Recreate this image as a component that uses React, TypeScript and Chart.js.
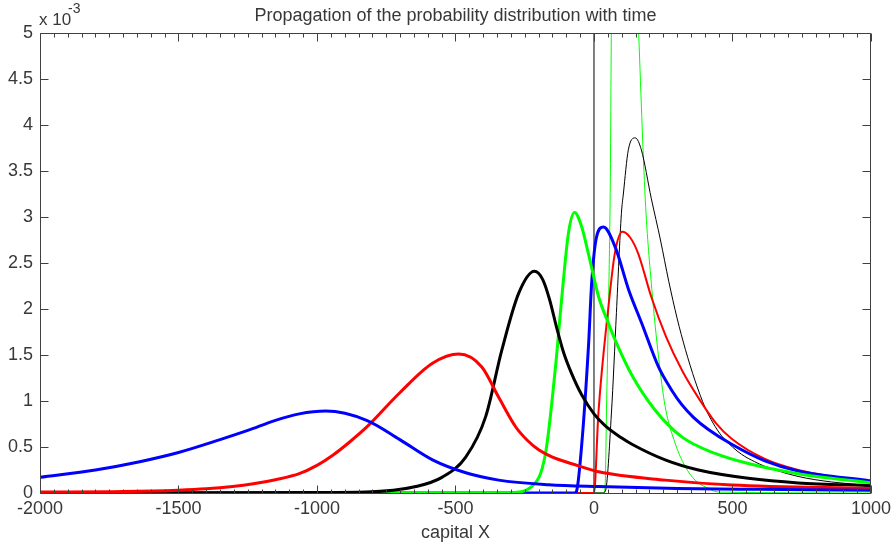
import React, { useEffect, useRef } from "react";
import { Chart, registerables } from "chart.js";

Chart.register(...registerables);

const W = 896;
const H = 549;
const FONT_FAMILY = '"Liberation Sans", Arial, Helvetica, sans-serif';
const TEXT_COLOR = "#383838";
const AXIS_COLOR = "#404040";

const TITLE = "Propagation of the probability distribution with time";
const X_LABEL = "capital X";
const Y_MULT = "x 10";
const Y_EXP = "-3";

const X_MIN = -2000;
const X_MAX = 1000;
const X_STEP = 500;
const X_MINOR = 50;
const Y_MIN = 0;
const Y_MAX = 5;
const Y_STEP = 0.5;

// values in units of 1e-3
const deltaX = [0, 0];
const deltaY = [0, 50];

const greenThinX = [-2000, 35, 41, 45, 52, 59, 63, 110, 160, 185, 209, 233, 257, 293, 329, 365, 413, 450, 1000];
const greenThinY = [0, 0, 0.14, 0.87, 1.96, 3.4, 5.1, 9.0, 5.1, 3.2, 2.21, 1.48, 0.94, 0.54, 0.29, 0.14, 0.05, 0.01, 0];

const blackThinX = [-2000, 30, 41, 63, 81, 99, 106, 124, 149, 171, 207, 240, 270, 300, 330, 365, 401, 430, 461, 500, 533, 580, 617, 737, 857, 1000];
const blackThinY = [0, 0, 0.02, 0.87, 1.96, 3.04, 3.25, 3.73, 3.86, 3.73, 3.2, 2.75, 2.3, 1.9, 1.56, 1.22, 0.93, 0.76, 0.62, 0.5, 0.42, 0.34, 0.29, 0.18, 0.12, 0.08];

const redThinX = [-2000, 0, 16, 52, 75, 102, 130, 160, 207, 260, 320, 380, 440, 497, 617, 737, 857, 1000];
const redThinY = [0, 0, 0.87, 2.02, 2.6, 2.84, 2.78, 2.6, 2.13, 1.7, 1.32, 1.02, 0.76, 0.59, 0.37, 0.25, 0.18, 0.12];

const blueNarrowX = [-2000, -70, -63, -45, -20, -8, 9, 34, 77, 125, 173, 233, 280, 317, 360, 413, 497, 617, 737, 1000];
const blueNarrowY = [0, 0, 0.02, 0.5, 1.59, 2.3, 2.78, 2.89, 2.67, 2.21, 1.84, 1.37, 1.12, 0.96, 0.82, 0.69, 0.53, 0.35, 0.24, 0.13];

const greenThickX = [-2000, -300, -225, -175, -139, -117, -92, -70, -45, -20, 17, 50, 77, 137, 221, 317, 437, 557, 737, 1000];
const greenThickY = [0, 0.005, 0.07, 0.43, 1.37, 2.1, 2.83, 3.05, 2.9, 2.6, 2.13, 1.86, 1.66, 1.28, 0.9, 0.61, 0.43, 0.32, 0.21, 0.11];

const blackThickX = [-2000, -1000, -823, -643, -549, -463, -391, -333, -272, -215, -185, -160, -135, -110, -81, -45, 0, 41, 99, 137, 257, 377, 557, 737, 1000];
const blackThickY = [0, 0.005, 0.01, 0.07, 0.17, 0.39, 0.83, 1.55, 2.17, 2.41, 2.32, 2.1, 1.8, 1.53, 1.3, 1.07, 0.86, 0.73, 0.6, 0.53, 0.36, 0.25, 0.16, 0.11, 0.08];

const redThickX = [-2000, -1700, -1500, -1400, -1305, -1230, -1150, -1064, -1000, -943, -880, -823, -701, -583, -488, -405, -344, -283, -240, -200, -150, -103, -50, 17, 257, 497, 1000];
const redThickY = [0.01, 0.015, 0.03, 0.045, 0.07, 0.1, 0.145, 0.21, 0.3, 0.41, 0.56, 0.71, 1.09, 1.41, 1.51, 1.37, 1.04, 0.72, 0.57, 0.47, 0.39, 0.34, 0.29, 0.23, 0.14, 0.087, 0.05];

const blueWideX = [-2000, -1800, -1640, -1500, -1350, -1250, -1150, -1064, -968, -821, -701, -583, -463, -344, -164, 17, 300, 600, 1000];
const blueWideY = [0.17, 0.25, 0.34, 0.44, 0.58, 0.68, 0.79, 0.86, 0.89, 0.79, 0.58, 0.36, 0.22, 0.14, 0.09, 0.07, 0.05, 0.04, 0.03];

const zip = (xs: number[], ys: number[]) => xs.map((x, i) => ({ x, y: ys[i] }));

const matlabAxes = {
  id: "matlabAxes",
  afterDatasetsDraw(chart: any) {
    const { ctx, chartArea: a, scales } = chart;
    const xs = scales.x;
    const ys = scales.y;
    ctx.save();
    ctx.strokeStyle = AXIS_COLOR;
    ctx.lineWidth = 1;
    const L = Math.round(a.left) + 0.5;
    const R = Math.round(a.right) - 0.5;
    const T = Math.round(a.top) + 0.5;
    const B = Math.round(a.bottom) + 0.5;
    ctx.beginPath();
    ctx.rect(L, T, R - L, B - T);
    for (let v = X_MIN; v <= X_MAX; v += X_MINOR) {
      const p = Math.round(xs.getPixelForValue(v)) + 0.5;
      const len = v % X_STEP === 0 ? 8 : 4;
      ctx.moveTo(p, B);
      ctx.lineTo(p, B - len);
      ctx.moveTo(p, T);
      ctx.lineTo(p, T + len);
    }
    for (let v = Y_MIN; v <= Y_MAX + 1e-9; v += Y_STEP) {
      const p = Math.round(ys.getPixelForValue(v)) + 0.5;
      ctx.moveTo(L, p);
      ctx.lineTo(L + 8, p);
      ctx.moveTo(R, p);
      ctx.lineTo(R - 8, p);
    }
    ctx.stroke();
    ctx.restore();
  },
  afterDraw(chart: any) {
    const { ctx, chartArea: a } = chart;
    ctx.save();
    ctx.fillStyle = TEXT_COLOR;
    ctx.font = `18px ${FONT_FAMILY}`;
    ctx.textAlign = "center";
    ctx.textBaseline = "alphabetic";
    ctx.fillText(TITLE, (a.left + a.right) / 2, 21);
    ctx.textAlign = "left";
    ctx.font = `17px ${FONT_FAMILY}`;
    ctx.fillText(Y_MULT, 39, 25);
    ctx.font = `14px ${FONT_FAMILY}`;
    ctx.fillText(Y_EXP, 68, 13);
    ctx.restore();
  },
};

export default function App() {
  const ref = useRef<HTMLCanvasElement | null>(null);
  useEffect(() => {
    if (!ref.current) return;
    const thick = 3;
    const sets = [
      { data: zip(deltaX, deltaY), borderColor: "#000000", borderWidth: 1, cubicInterpolationMode: "default", tension: 0 },
      { data: zip(greenThinX, greenThinY), borderColor: "#00ff00", borderWidth: 1 },
      { data: zip(blackThinX, blackThinY), borderColor: "#000000", borderWidth: 1 },
      { data: zip(redThinX, redThinY), borderColor: "#ff0000", borderWidth: 2 },
      { data: zip(blueNarrowX, blueNarrowY), borderColor: "#0000ff", borderWidth: thick },
      { data: zip(greenThickX, greenThickY), borderColor: "#00ff00", borderWidth: thick },
      { data: zip(blackThickX, blackThickY), borderColor: "#000000", borderWidth: thick },
      { data: zip(redThickX, redThickY), borderColor: "#ff0000", borderWidth: thick },
      { data: zip(blueWideX, blueWideY), borderColor: "#0000ff", borderWidth: thick },
    ].map((d) => ({ fill: false, pointRadius: 0, ...d }));
    // Chart.js paints the first dataset on top; reverse so later series are on top
    const datasets = sets.slice().reverse();
    const font = { family: FONT_FAMILY, size: 18 };
    const chart = new Chart(ref.current, {
      type: "line",
      data: { datasets: datasets as any },
      options: {
        responsive: false,
        maintainAspectRatio: false,
        animation: false,
        layout: { padding: { top: 33, right: 23, left: 0, bottom: 0 } },
        elements: { point: { radius: 0 }, line: { cubicInterpolationMode: "monotone" } },
        plugins: { legend: { display: false }, tooltip: { enabled: false }, title: { display: false } },
        scales: {
          x: {
            type: "linear",
            min: X_MIN,
            max: X_MAX,
            grid: { display: false, drawTicks: false },
            border: { display: false },
            ticks: {
              stepSize: X_STEP,
              padding: 5,
              color: TEXT_COLOR,
              font,
              maxRotation: 0,
              autoSkip: false,
              callback: (v: any) => String(v),
            },
            title: { display: true, text: X_LABEL, color: TEXT_COLOR, font, padding: { top: 0, bottom: 5 } },
            afterFit: (s: any) => {
              s.height = 56;
            },
          },
          y: {
            type: "linear",
            min: Y_MIN,
            max: Y_MAX,
            grid: { display: false, drawTicks: false },
            border: { display: false },
            ticks: {
              stepSize: Y_STEP,
              padding: 7,
              color: TEXT_COLOR,
              font,
              callback: (v: any) => String(Math.round(Number(v) * 10) / 10),
            },
            afterFit: (s: any) => {
              s.width = 40;
            },
          },
        },
      },
      plugins: [matlabAxes],
    });
    return () => chart.destroy();
  }, []);
  return (
    <div style={{ position: "fixed", left: 0, top: 0, width: W, height: H, background: "#fff" }}>
      <canvas ref={ref} width={W} height={H} style={{ display: "block" }} />
    </div>
  );
}
